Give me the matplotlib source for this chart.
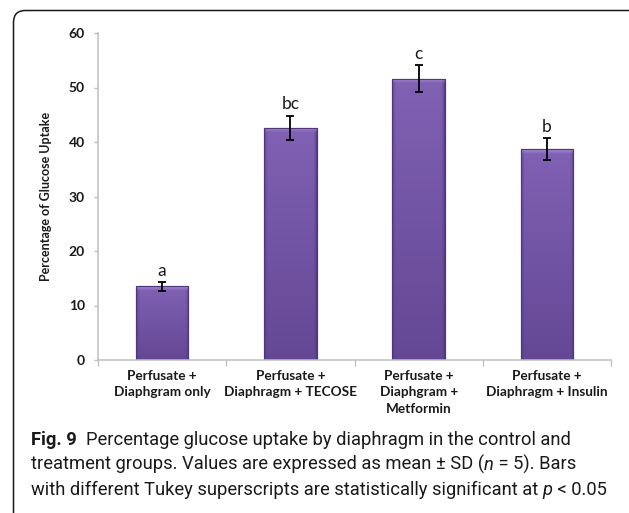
import numpy as np
import matplotlib
matplotlib.use("Agg")
import matplotlib.pyplot as plt
from matplotlib.patches import FancyBboxPatch

# --- data -------------------------------------------------------------
groups = [
    "Perfusate +\nDiaphgram only",
    "Perfusate +\nDiaphragm + TECOSE",
    "Perfusate +\nDiaphgram +\nMetformin",
    "Perfusate +\nDiaphragm + Insulin",
]
uptake_mean = [13.5, 42.6, 51.6, 38.7]
uptake_sd = [0.75, 2.2, 2.5, 2.0]
tukey_letters = ["a", "bc", "c", "b"]
y_ticks = [0, 10, 20, 30, 40, 50, 60]

W, H = 629, 513
DPI = 100
fig = plt.figure(figsize=(W / DPI, H / DPI), dpi=DPI)

# --- rounded panel frame (pixel coordinates) --------------------------
bg = fig.add_axes([0, 0, 1, 1], zorder=0)
bg.set_xlim(0, W)
bg.set_ylim(H, 0)
bg.axis("off")
frame = FancyBboxPatch((13.5, 10.5), 700, 520,
                       boxstyle="round,pad=0,rounding_size=12",
                       facecolor="white", edgecolor="#1a1a1a", linewidth=1.1)
bg.add_patch(frame)

# --- bar chart --------------------------------------------------------
chart_font = ["Lato", "DejaVu Sans"]
ax = fig.add_axes([98 / W, 1 - 360 / H, (611 - 98) / W, (360 - 33) / H], zorder=1)
ax.patch.set_alpha(0)

x = np.arange(len(groups))
bars = ax.bar(x, uptake_mean, width=0.41, color="#7556a6",
              edgecolor="#4f3878", linewidth=0.8, zorder=2)

# shaded fill inside each bar: darker sides, lighter top, bevelled top edge
ny, nx = 200, 60
u = np.linspace(0, 1, nx)
side = np.clip(np.minimum(u, 1 - u) / 0.06, 0, 1) ** 0.6
top_col = np.array([0x80, 0x61, 0xb3]) / 255
bot_col = np.array([0x64, 0x47, 0x95]) / 255
edge_col = np.array([0x55, 0x3c, 0x82]) / 255
bevel_col = np.array([0xa8, 0x8f, 0xd8]) / 255
for b in bars:
    h = b.get_height()
    v = np.linspace(1, 0, ny)[:, None]          # 1 at top row, 0 at bottom
    body = bot_col + (top_col - bot_col) * v[..., None]
    img = edge_col + (body - edge_col) * side[None, :, None]
    # bevel band of ~4 px at the top
    bevel_units = 4.5 / 5.45
    yy = np.linspace(h, 0, ny)
    band = np.clip((yy - (h - bevel_units)) / bevel_units, 0, 1)[:, None, None]
    img = img + (bevel_col - img) * band * 0.85
    im = ax.imshow(np.clip(img, 0, 1), extent=(b.get_x(), b.get_x() + b.get_width(), 0, h),
                   aspect="auto", zorder=2.1, interpolation="bilinear")
    im.set_clip_path(b)
    ax.add_patch(plt.Rectangle((b.get_x(), 0), b.get_width(), h, fill=False,
                               edgecolor="#4f3878", linewidth=0.8, zorder=2.2))

ax.errorbar(x, uptake_mean, yerr=uptake_sd, fmt="none", ecolor="black",
            elinewidth=1.3, capsize=3.2, capthick=1.3, zorder=3)

for xi, m, s, lab in zip(x, uptake_mean, uptake_sd, tukey_letters):
    ax.annotate(lab, (xi, m + s), xytext=(0, 2.5), textcoords="offset points",
                ha="center", va="bottom", fontsize=12.5, color="#1a1a1a",
                family=chart_font, zorder=4)

ax.set_xlim(-0.5, len(groups) - 0.5)
ax.set_ylim(0, 60)
ax.set_yticks(y_ticks)
ax.set_yticklabels([str(t) for t in y_ticks], fontsize=10, fontweight="bold",
                   family=chart_font, color="#1a1a1a")
ax.set_xticks(x)
ax.set_xticklabels(groups, fontsize=9.8, fontweight="bold", family=chart_font,
                   color="#1a1a1a", linespacing=1.45)
ax.set_xticks(np.arange(-0.5, len(groups)), minor=True)
ax.tick_params(axis="x", which="major", length=0, pad=7)
ax.tick_params(axis="x", which="minor", length=4, color="#bfbfbf", width=1)
ax.tick_params(axis="y", length=3, color="#bfbfbf", width=1, pad=6.5)

for side_name in ("top", "right"):
    ax.spines[side_name].set_visible(False)
for side_name in ("left", "bottom"):
    ax.spines[side_name].set_color("#bfbfbf")
    ax.spines[side_name].set_linewidth(1.1)

ax.set_ylabel("Percentage of Glucose Uptake", fontsize=9, fontweight="bold",
              family=chart_font, color="#1a1a1a")
ax.yaxis.label.set_va("center")
ax.yaxis.set_label_coords((46 - 98) / (611 - 98), 0.5)

# --- caption ----------------------------------------------------------
cap_font = ["Roboto", "Open Sans", "DejaVu Sans"]
cap_size = 14.0
cap_left = 31
cap_texts = []
line_ends = []


def caption_line(y_px, pieces):
    prev = None
    for txt, style in pieces:
        kw = dict(fontsize=cap_size, family=cap_font, color="#1a1a1a")
        if style == "bold":
            kw["fontweight"] = "bold"
        elif style == "italic":
            kw["fontstyle"] = "italic"
        if prev is None:
            prev = fig.text(cap_left / W, 1 - y_px / H, txt, ha="left",
                            va="baseline", **kw)
        else:
            prev = bg.annotate(txt, xy=(1, 0), xycoords=prev, ha="left",
                               va="bottom", **kw)
        cap_texts.append(prev)
    line_ends.append(prev)


caption_line(445, [("Fig. 9", "bold"),
                   ("  Percentage glucose uptake by diaphragm in the control and", "")])
caption_line(470, [("treatment groups. Values are expressed as mean \u00b1 SD (", ""),
                   ("n", "italic"), (" = 5). Bars", "")])
caption_line(495, [("with different Tukey superscripts are statistically significant at ", ""),
                   ("p", "italic"), (" < 0.05", "")])

# shrink the caption font so the widest line ends inside the panel
fig.canvas.draw()
renderer = fig.canvas.get_renderer()
widest = max(t.get_window_extent(renderer).x1 for t in line_ends) - cap_left
scale = (611 - cap_left) / widest
for t in cap_texts:
    t.set_fontsize(cap_size * scale)

fig.savefig("out.png", dpi=DPI)
